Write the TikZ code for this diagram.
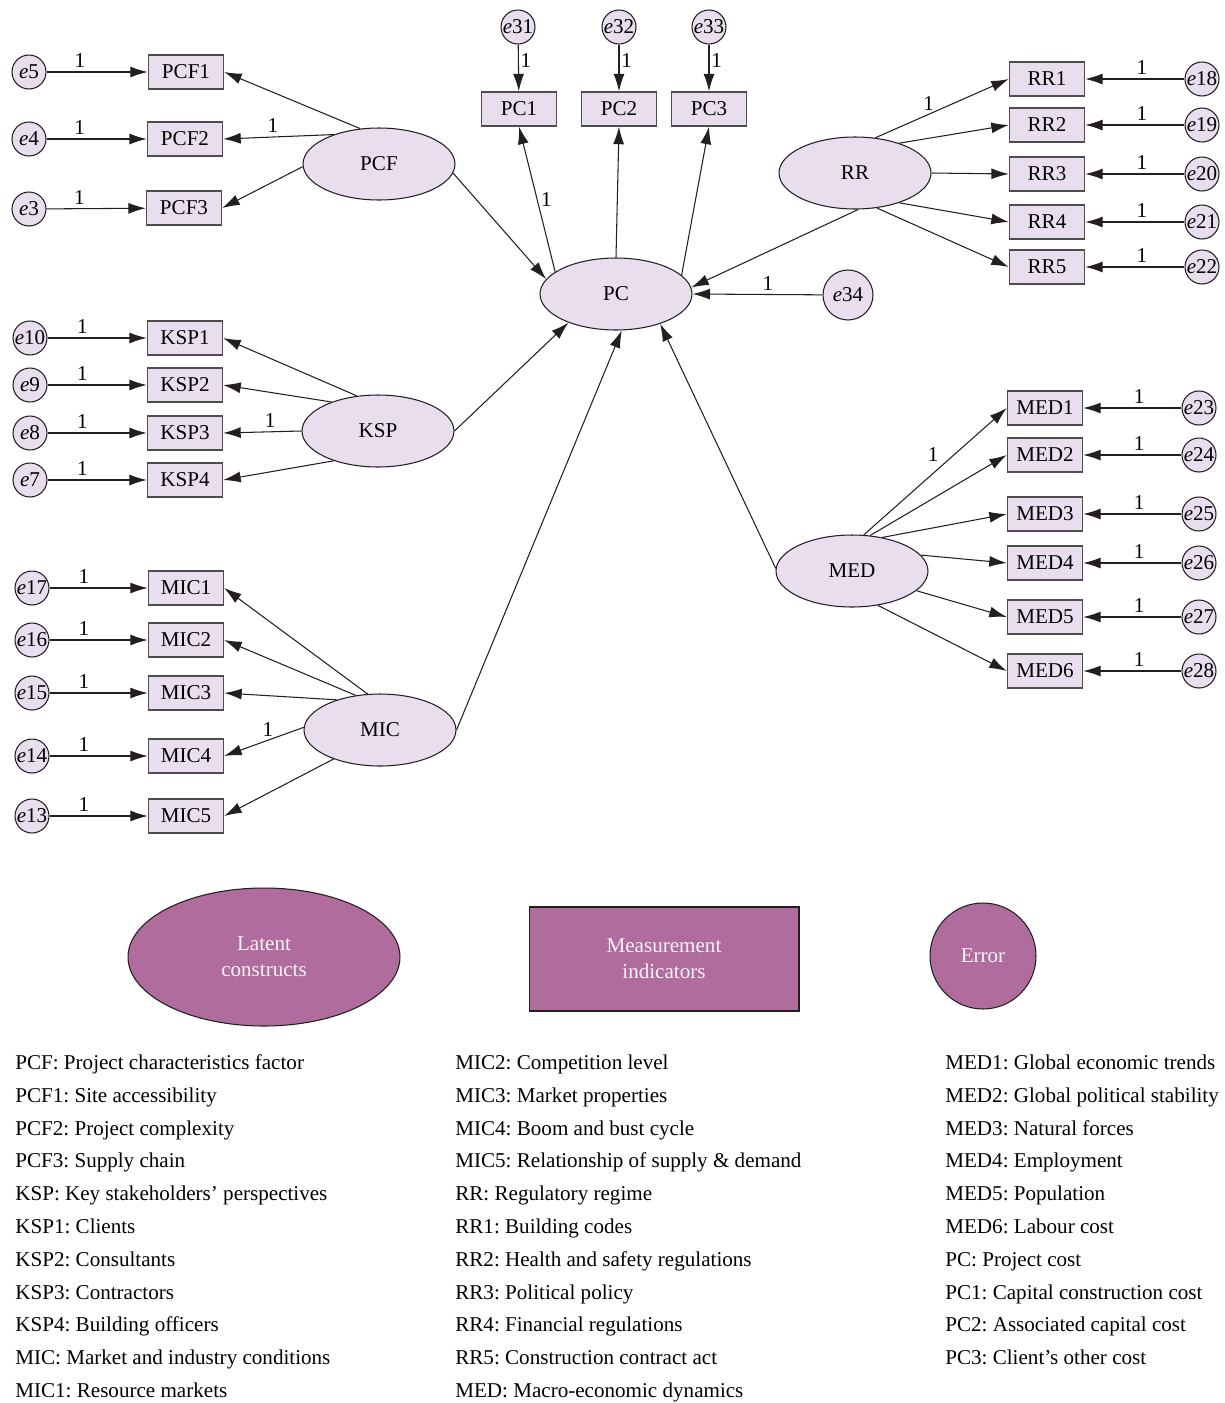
\documentclass[tikz,border=0pt]{standalone}
\usepackage{fontspec}
\setmainfont{Liberation Serif}
\usetikzlibrary{shapes.geometric,arrows.meta}
\pgfdeclarelayer{nodelayer}
\pgfdeclarelayer{edgelayer}
\pgfsetlayers{edgelayer,nodelayer,main}
\definecolor{nodefill}{RGB}{232,222,238}
\definecolor{legendfill}{RGB}{176,108,156}
\definecolor{linegray}{RGB}{35,31,32}
\tikzstyle{latent}=[fill=nodefill, draw=linegray, shape=ellipse, minimum width=3.04cm, minimum height=1.44cm, inner sep=0pt, line width=0.6pt]
\tikzstyle{indicator}=[fill=nodefill, draw=linegray!80, shape=rectangle, minimum width=1.5cm, minimum height=0.68cm, inner sep=0pt, line width=0.8pt]
\tikzstyle{residual}=[fill=nodefill, draw=linegray, shape=circle, minimum size=0.68cm, inner sep=0pt, line width=0.6pt]
\tikzstyle{big residual}=[style=residual, minimum size=1cm]
\tikzstyle{legend shape}=[fill=legendfill, draw=linegray, text=white!92!legendfill, align=center, line width=0.6pt, font=\fontsize{12}{14.7}\selectfont]
\tikzstyle{key text}=[anchor=base west, inner sep=0pt, font=\fontsize{12}{15}\selectfont]
\tikzstyle{directed edge}=[-{Latex[length=3.5mm,width=2.2mm]}, draw=linegray, line width=0.6pt]
\tikzstyle{weight label}=[inner sep=2pt]
\frenchspacing

\begin{document}
\begin{tikzpicture}[x=0.02cm, y=-0.02cm, font=\fontsize{12}{14}\selectfont]
    \useasboundingbox (0, 0) rectangle (1224, 1403);
    	\begin{pgfonlayer}{nodelayer}
    		% latent constructs
    		\node [style=latent] (PCF) at (379, 164) {PCF};
    		\node [style=latent] (KSP) at (378, 431) {KSP};
    		\node [style=latent] (MIC) at (380, 730) {MIC};
    		\node [style=latent] (PC) at (616, 294) {PC};
    		\node [style=latent] (RR) at (855, 173) {RR};
    		\node [style=latent] (MED) at (852, 571) {MED};
    		% indicators
    		\node [style=indicator] (PCF1) at (186, 72) {PCF1};
    		\node [style=indicator] (PCF2) at (185, 139) {PCF2};
    		\node [style=indicator] (PCF3) at (184, 208) {PCF3};
    		\node [style=indicator] (KSP1) at (185, 338) {KSP1};
    		\node [style=indicator] (KSP2) at (185, 385) {KSP2};
    		\node [style=indicator] (KSP3) at (185, 433) {KSP3};
    		\node [style=indicator] (KSP4) at (185, 480) {KSP4};
    		\node [style=indicator] (MIC1) at (186, 588) {MIC1};
    		\node [style=indicator] (MIC2) at (186, 640) {MIC2};
    		\node [style=indicator] (MIC3) at (186, 693) {MIC3};
    		\node [style=indicator] (MIC4) at (186, 756) {MIC4};
    		\node [style=indicator] (MIC5) at (186, 816) {MIC5};
    		\node [style=indicator] (PC1) at (519, 109) {PC1};
    		\node [style=indicator] (PC2) at (619, 109) {PC2};
    		\node [style=indicator] (PC3) at (709, 109) {PC3};
    		\node [style=indicator] (RR1) at (1047, 79) {RR1};
    		\node [style=indicator] (RR2) at (1047, 125) {RR2};
    		\node [style=indicator] (RR3) at (1047, 174) {RR3};
    		\node [style=indicator] (RR4) at (1047, 222) {RR4};
    		\node [style=indicator] (RR5) at (1047, 267) {RR5};
    		\node [style=indicator] (MED1) at (1045, 408) {MED1};
    		\node [style=indicator] (MED2) at (1045, 455) {MED2};
    		\node [style=indicator] (MED3) at (1045, 514) {MED3};
    		\node [style=indicator] (MED4) at (1045, 563) {MED4};
    		\node [style=indicator] (MED5) at (1045, 617) {MED5};
    		\node [style=indicator] (MED6) at (1045, 671) {MED6};
    		% error terms
    		\node [style=residual] (e5) at (29, 72) {\textit{e}5};
    		\node [style=residual] (e4) at (29, 139) {\textit{e}4};
    		\node [style=residual] (e3) at (29, 209) {\textit{e}3};
    		\node [style=residual] (e10) at (30, 338) {\textit{e}10};
    		\node [style=residual] (e9) at (30, 385) {\textit{e}9};
    		\node [style=residual] (e8) at (30, 433) {\textit{e}8};
    		\node [style=residual] (e7) at (30, 480) {\textit{e}7};
    		\node [style=residual] (e17) at (32, 588) {\textit{e}17};
    		\node [style=residual] (e16) at (32, 640) {\textit{e}16};
    		\node [style=residual] (e15) at (32, 693) {\textit{e}15};
    		\node [style=residual] (e14) at (32, 756) {\textit{e}14};
    		\node [style=residual] (e13) at (32, 816) {\textit{e}13};
    		\node [style=residual] (e31) at (518, 27) {\textit{e}31};
    		\node [style=residual] (e32) at (619, 27) {\textit{e}32};
    		\node [style=residual] (e33) at (709, 27) {\textit{e}33};
    		\node [style=residual] (e18) at (1202, 79) {\textit{e}18};
    		\node [style=residual] (e19) at (1202, 125) {\textit{e}19};
    		\node [style=residual] (e20) at (1202, 174) {\textit{e}20};
    		\node [style=residual] (e21) at (1202, 222) {\textit{e}21};
    		\node [style=residual] (e22) at (1202, 267) {\textit{e}22};
    		\node [style=residual] (e23) at (1199, 408) {\textit{e}23};
    		\node [style=residual] (e24) at (1199, 455) {\textit{e}24};
    		\node [style=residual] (e25) at (1199, 514) {\textit{e}25};
    		\node [style=residual] (e26) at (1199, 563) {\textit{e}26};
    		\node [style=residual] (e27) at (1199, 617) {\textit{e}27};
    		\node [style=residual] (e28) at (1199, 671) {\textit{e}28};
    		\node [style=big residual] (e34) at (848, 295) {\textit{e}34};
    		% legend
    		\node [style=legend shape, shape=ellipse, minimum width=5.44cm, minimum height=2.76cm] (latentkey) at (264, 957) {Latent\\constructs};
    		\node [style=legend shape, shape=rectangle, minimum width=5.4cm, minimum height=2.08cm] (indicatorkey) at (664, 959) {Measurement\\indicators};
    		\node [style=legend shape, shape=circle, minimum size=2.12cm, inner sep=0pt] (errorkey) at (983, 956) {Error};
    		% abbreviations
    		\node [style=key text] (kPCF) at (15, 1069) {PCF: Project characteristics factor};
    		\node [style=key text] (kPCF1) at (15, 1102) {PCF1: Site accessibility};
    		\node [style=key text] (kPCF2) at (15, 1135) {PCF2: Project complexity};
    		\node [style=key text] (kPCF3) at (15, 1167) {PCF3: Supply chain};
    		\node [style=key text] (kKSP) at (15, 1200) {KSP: Key stakeholders’ perspectives};
    		\node [style=key text] (kKSP1) at (15, 1233) {KSP1: Clients};
    		\node [style=key text] (kKSP2) at (15, 1266) {KSP2: Consultants};
    		\node [style=key text] (kKSP3) at (15, 1299) {KSP3: Contractors};
    		\node [style=key text] (kKSP4) at (15, 1331) {KSP4: Building officers};
    		\node [style=key text] (kMIC) at (15, 1364) {MIC: Market and industry conditions};
    		\node [style=key text] (kMIC1) at (15, 1397) {MIC1: Resource markets};
    		\node [style=key text] (kMIC2) at (455, 1069) {MIC2: Competition level};
    		\node [style=key text] (kMIC3) at (455, 1102) {MIC3: Market properties};
    		\node [style=key text] (kMIC4) at (455, 1135) {MIC4: Boom and bust cycle};
    		\node [style=key text] (kMIC5) at (455, 1167) {MIC5: Relationship of supply \& demand};
    		\node [style=key text] (kRR) at (455, 1200) {RR: Regulatory regime};
    		\node [style=key text] (kRR1) at (455, 1233) {RR1: Building codes};
    		\node [style=key text] (kRR2) at (455, 1266) {RR2: Health and safety regulations};
    		\node [style=key text] (kRR3) at (455, 1299) {RR3: Political policy};
    		\node [style=key text] (kRR4) at (455, 1331) {RR4: Financial regulations};
    		\node [style=key text] (kRR5) at (455, 1364) {RR5: Construction contract act};
    		\node [style=key text] (kMED) at (455, 1397) {MED: Macro-economic dynamics};
    		\node [style=key text] (kMED1) at (945, 1069) {MED1: Global economic trends};
    		\node [style=key text] (kMED2) at (945, 1102) {MED2: Global political stability};
    		\node [style=key text] (kMED3) at (945, 1135) {MED3: Natural forces};
    		\node [style=key text] (kMED4) at (945, 1167) {MED4: Employment};
    		\node [style=key text] (kMED5) at (945, 1200) {MED5: Population};
    		\node [style=key text] (kMED6) at (945, 1233) {MED6: Labour cost};
    		\node [style=key text] (kPC) at (945, 1266) {PC: Project cost};
    		\node [style=key text] (kPC1) at (945, 1299) {PC1: Capital construction cost};
    		\node [style=key text] (kPC2) at (945, 1331) {PC2: Associated capital cost};
    		\node [style=key text] (kPC3) at (945, 1364) {PC3: Client’s other cost};
    	\end{pgfonlayer}
    	\begin{pgfonlayer}{edgelayer}
    		% PCF
    		\draw [style=directed edge] (PCF.118) to (PCF1.east);
    		\draw [style=directed edge] (PCF.147) to node [style=weight label, above, pos=0.55] {1} (PCF2.east);
    		\draw [style=directed edge] (PCF.182) to (PCF3.east);
    		\draw [style=directed edge] (e5) to node [style=weight label, above, pos=0.33] {1} (PCF1);
    		\draw [style=directed edge] (e4) to node [style=weight label, above, pos=0.33] {1} (PCF2);
    		\draw [style=directed edge] (e3) to node [style=weight label, above, pos=0.33] {1} (PCF3);
    		% KSP
    		\draw [style=directed edge] (KSP.121) to (KSP1.east);
    		\draw [style=directed edge] (KSP.148) to (KSP2.east);
    		\draw [style=directed edge] (KSP.west) to node [style=weight label, above, pos=0.4] {1} (KSP3.east);
    		\draw [style=directed edge] (KSP.214) to (KSP4.east);
    		\draw [style=directed edge] (e10) to node [style=weight label, above, pos=0.35] {1} (KSP1);
    		\draw [style=directed edge] (e9) to node [style=weight label, above, pos=0.35] {1} (KSP2);
    		\draw [style=directed edge] (e8) to node [style=weight label, above, pos=0.35] {1} (KSP3);
    		\draw [style=directed edge] (e7) to node [style=weight label, above, pos=0.35] {1} (KSP4);
    		% MIC
    		\draw [style=directed edge] (MIC.109) to (MIC1.east);
    		\draw [style=directed edge] (MIC.125) to (MIC2.east);
    		\draw [style=directed edge] (MIC.145) to (MIC3.east);
    		\draw [style=directed edge] (MIC.178) to node [style=weight label, above, pos=0.45] {1} (MIC4.east);
    		\draw [style=directed edge] (MIC.212) to (MIC5.east);
    		\draw [style=directed edge] (e17) to node [style=weight label, above, pos=0.35] {1} (MIC1);
    		\draw [style=directed edge] (e16) to node [style=weight label, above, pos=0.35] {1} (MIC2);
    		\draw [style=directed edge] (e15) to node [style=weight label, above, pos=0.35] {1} (MIC3);
    		\draw [style=directed edge] (e14) to node [style=weight label, above, pos=0.35] {1} (MIC4);
    		\draw [style=directed edge] (e13) to node [style=weight label, above, pos=0.35] {1} (MIC5);
    		% PC
    		\draw [style=directed edge] (PC.160) to node [style=weight label, right, pos=0.5] {1} (PC1.south);
    		\draw [style=directed edge] (PC.north) to (PC2.south);
    		\draw [style=directed edge] (PC.16) to (PC3.south);
    		\draw [style=directed edge] (e31) to node [style=weight label, right, pos=0.35, inner sep=1pt] {1} (PC1);
    		\draw [style=directed edge] (e32) to node [style=weight label, right, pos=0.35, inner sep=1pt] {1} (PC2);
    		\draw [style=directed edge] (e33) to node [style=weight label, right, pos=0.35, inner sep=1pt] {1} (PC3);
    		\draw [style=directed edge] (e34) to node [style=weight label, above, pos=0.42] {1} (PC.east);
    		\draw [style=directed edge] (PCF.-7) to (PC.168);
    		\draw [style=directed edge] (KSP.east) to (PC.211);
    		\draw [style=directed edge] (MIC.east) to (PC.279);
    		\draw [style=directed edge] (RR.-85) to (PC.5);
    		\draw [style=directed edge] (MED.178) to (PC.326);
    		% RR
    		\draw [style=directed edge] (RR.60) to node [style=weight label, above, pos=0.4] {1} (RR1.west);
    		\draw [style=directed edge] (RR.34) to (RR2.west);
    		\draw [style=directed edge] (RR.east) to (RR3.west);
    		\draw [style=directed edge] (RR.-34) to (RR4.west);
    		\draw [style=directed edge] (RR.-58) to (RR5.west);
    		\draw [style=directed edge] (e18) to node [style=weight label, above, pos=0.43] {1} (RR1);
    		\draw [style=directed edge] (e19) to node [style=weight label, above, pos=0.43] {1} (RR2);
    		\draw [style=directed edge] (e20) to node [style=weight label, above, pos=0.43] {1} (RR3);
    		\draw [style=directed edge] (e21) to node [style=weight label, above, pos=0.43] {1} (RR4);
    		\draw [style=directed edge] (e22) to node [style=weight label, above, pos=0.43] {1} (RR5);
    		% MED
    		\draw [style=directed edge] (MED.72) to node [style=weight label, above left, pos=0.55] {1} (MED1.west);
    		\draw [style=directed edge] (MED.63) to (MED2.west);
    		\draw [style=directed edge] (MED.48) to (MED3.west);
    		\draw [style=directed edge] (MED.13) to (MED4.west);
    		\draw [style=directed edge] (MED.-17) to (MED5.west);
    		\draw [style=directed edge] (MED.-53) to (MED6.west);
    		\draw [style=directed edge] (e23) to node [style=weight label, above, pos=0.43] {1} (MED1);
    		\draw [style=directed edge] (e24) to node [style=weight label, above, pos=0.43] {1} (MED2);
    		\draw [style=directed edge] (e25) to node [style=weight label, above, pos=0.43] {1} (MED3);
    		\draw [style=directed edge] (e26) to node [style=weight label, above, pos=0.43] {1} (MED4);
    		\draw [style=directed edge] (e27) to node [style=weight label, above, pos=0.43] {1} (MED5);
    		\draw [style=directed edge] (e28) to node [style=weight label, above, pos=0.43] {1} (MED6);
    	\end{pgfonlayer}
    \end{tikzpicture}
\end{document}
